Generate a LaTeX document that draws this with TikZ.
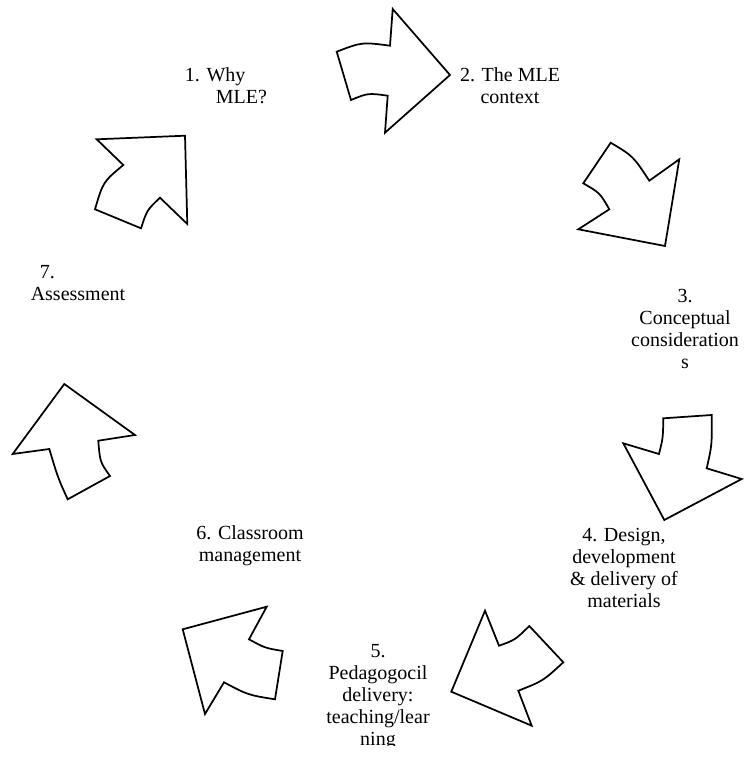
\documentclass[tikz,border=0pt]{standalone}
\usepackage{fontspec}
\setmainfont{Liberation Serif}
\tikzset{
  blockarrow/.style={draw=black, line width=1.3pt, line join=miter, fill=white},
  steplabel/.style={align=center, inner sep=0pt, font=\fontsize{15}{16.5}\selectfont}
}
\begin{document}
\begin{tikzpicture}[x=0.75pt, y=-0.75pt]
    \useasboundingbox (0,0) rectangle (746,758);

    % arrows, clockwise from the top
    \draw[blockarrow] (336.7,51.7) .. controls (362,42) .. (390,45.7) -- (392.7,9) -- (450,75) -- (385,132.7)
        -- (387.7,95.7) .. controls (368,93) .. (351,100) -- cycle;
    \draw[blockarrow] (610.7,142.7) .. controls (633,156) .. (649.3,180.7) -- (679.3,159.3) -- (665,246)
        -- (578.3,229.3) -- (609.3,209.3) .. controls (600,193) .. (583.3,183.3) -- cycle;
    \draw[blockarrow] (663.3,418.3) -- (711.7,415) .. controls (712,445) .. (706.7,468.3) -- (741.7,479)
        -- (664.3,520) -- (623.3,443.3) -- (659,454) .. controls (663,438) .. cycle;
    \draw[blockarrow] (485,610.7) -- (499,645.7) .. controls (515,640) .. (529.3,626) -- (563.3,662.3)
        .. controls (543,681) .. (518.3,690.7) -- (531.7,725.7) -- (451.3,691.7) -- cycle;
    \draw[blockarrow] (182.7,629.3) -- (266.7,606.7) -- (249,639.3) .. controls (265,648) .. (282.7,651)
        -- (275,699.3) .. controls (248,695) .. (224,682.3) -- (205,714) -- cycle;
    \draw[blockarrow] (64.3,384) -- (135,435) -- (98.3,440.7) .. controls (100,462) .. (110,476)
        -- (67.7,499.3) .. controls (58,478) .. (49.3,449) -- (12.7,454) -- cycle;
    \draw[blockarrow] (96.7,139.3) -- (185,135.7) -- (187.3,224) -- (160,197.7) .. controls (147,210) .. (141,228.3)
        -- (95,209.3) .. controls (103,182) .. (123.3,165) -- cycle;

    % labels
    \node[steplabel, align=left] (why) at (226,86) {1. Why\\\hspace*{1.55em}MLE?};
    \node[steplabel] (context) at (510,86) {2. The MLE\\context};
    \node[steplabel] (concept) at (685,329) {3.\\Conceptual\\consideration\\s};
    \node[steplabel] (design) at (624,568) {4. Design,\\development\\\& delivery of\\materials};
    \begin{scope}
        \clip (300,630) rectangle (460,745);
        \node[steplabel] (pedagogy) at (378,697) {5.\\Pedagogocil\\delivery:\\teaching/lear\\ning};
    \end{scope}
    \node[steplabel] (classroom) at (250,546) {6. Classroom\\management};
    \node[steplabel, align=left] (assess) at (78,283) {\hspace*{0.45em}7.\\Assessment};
\end{tikzpicture}
\end{document}
